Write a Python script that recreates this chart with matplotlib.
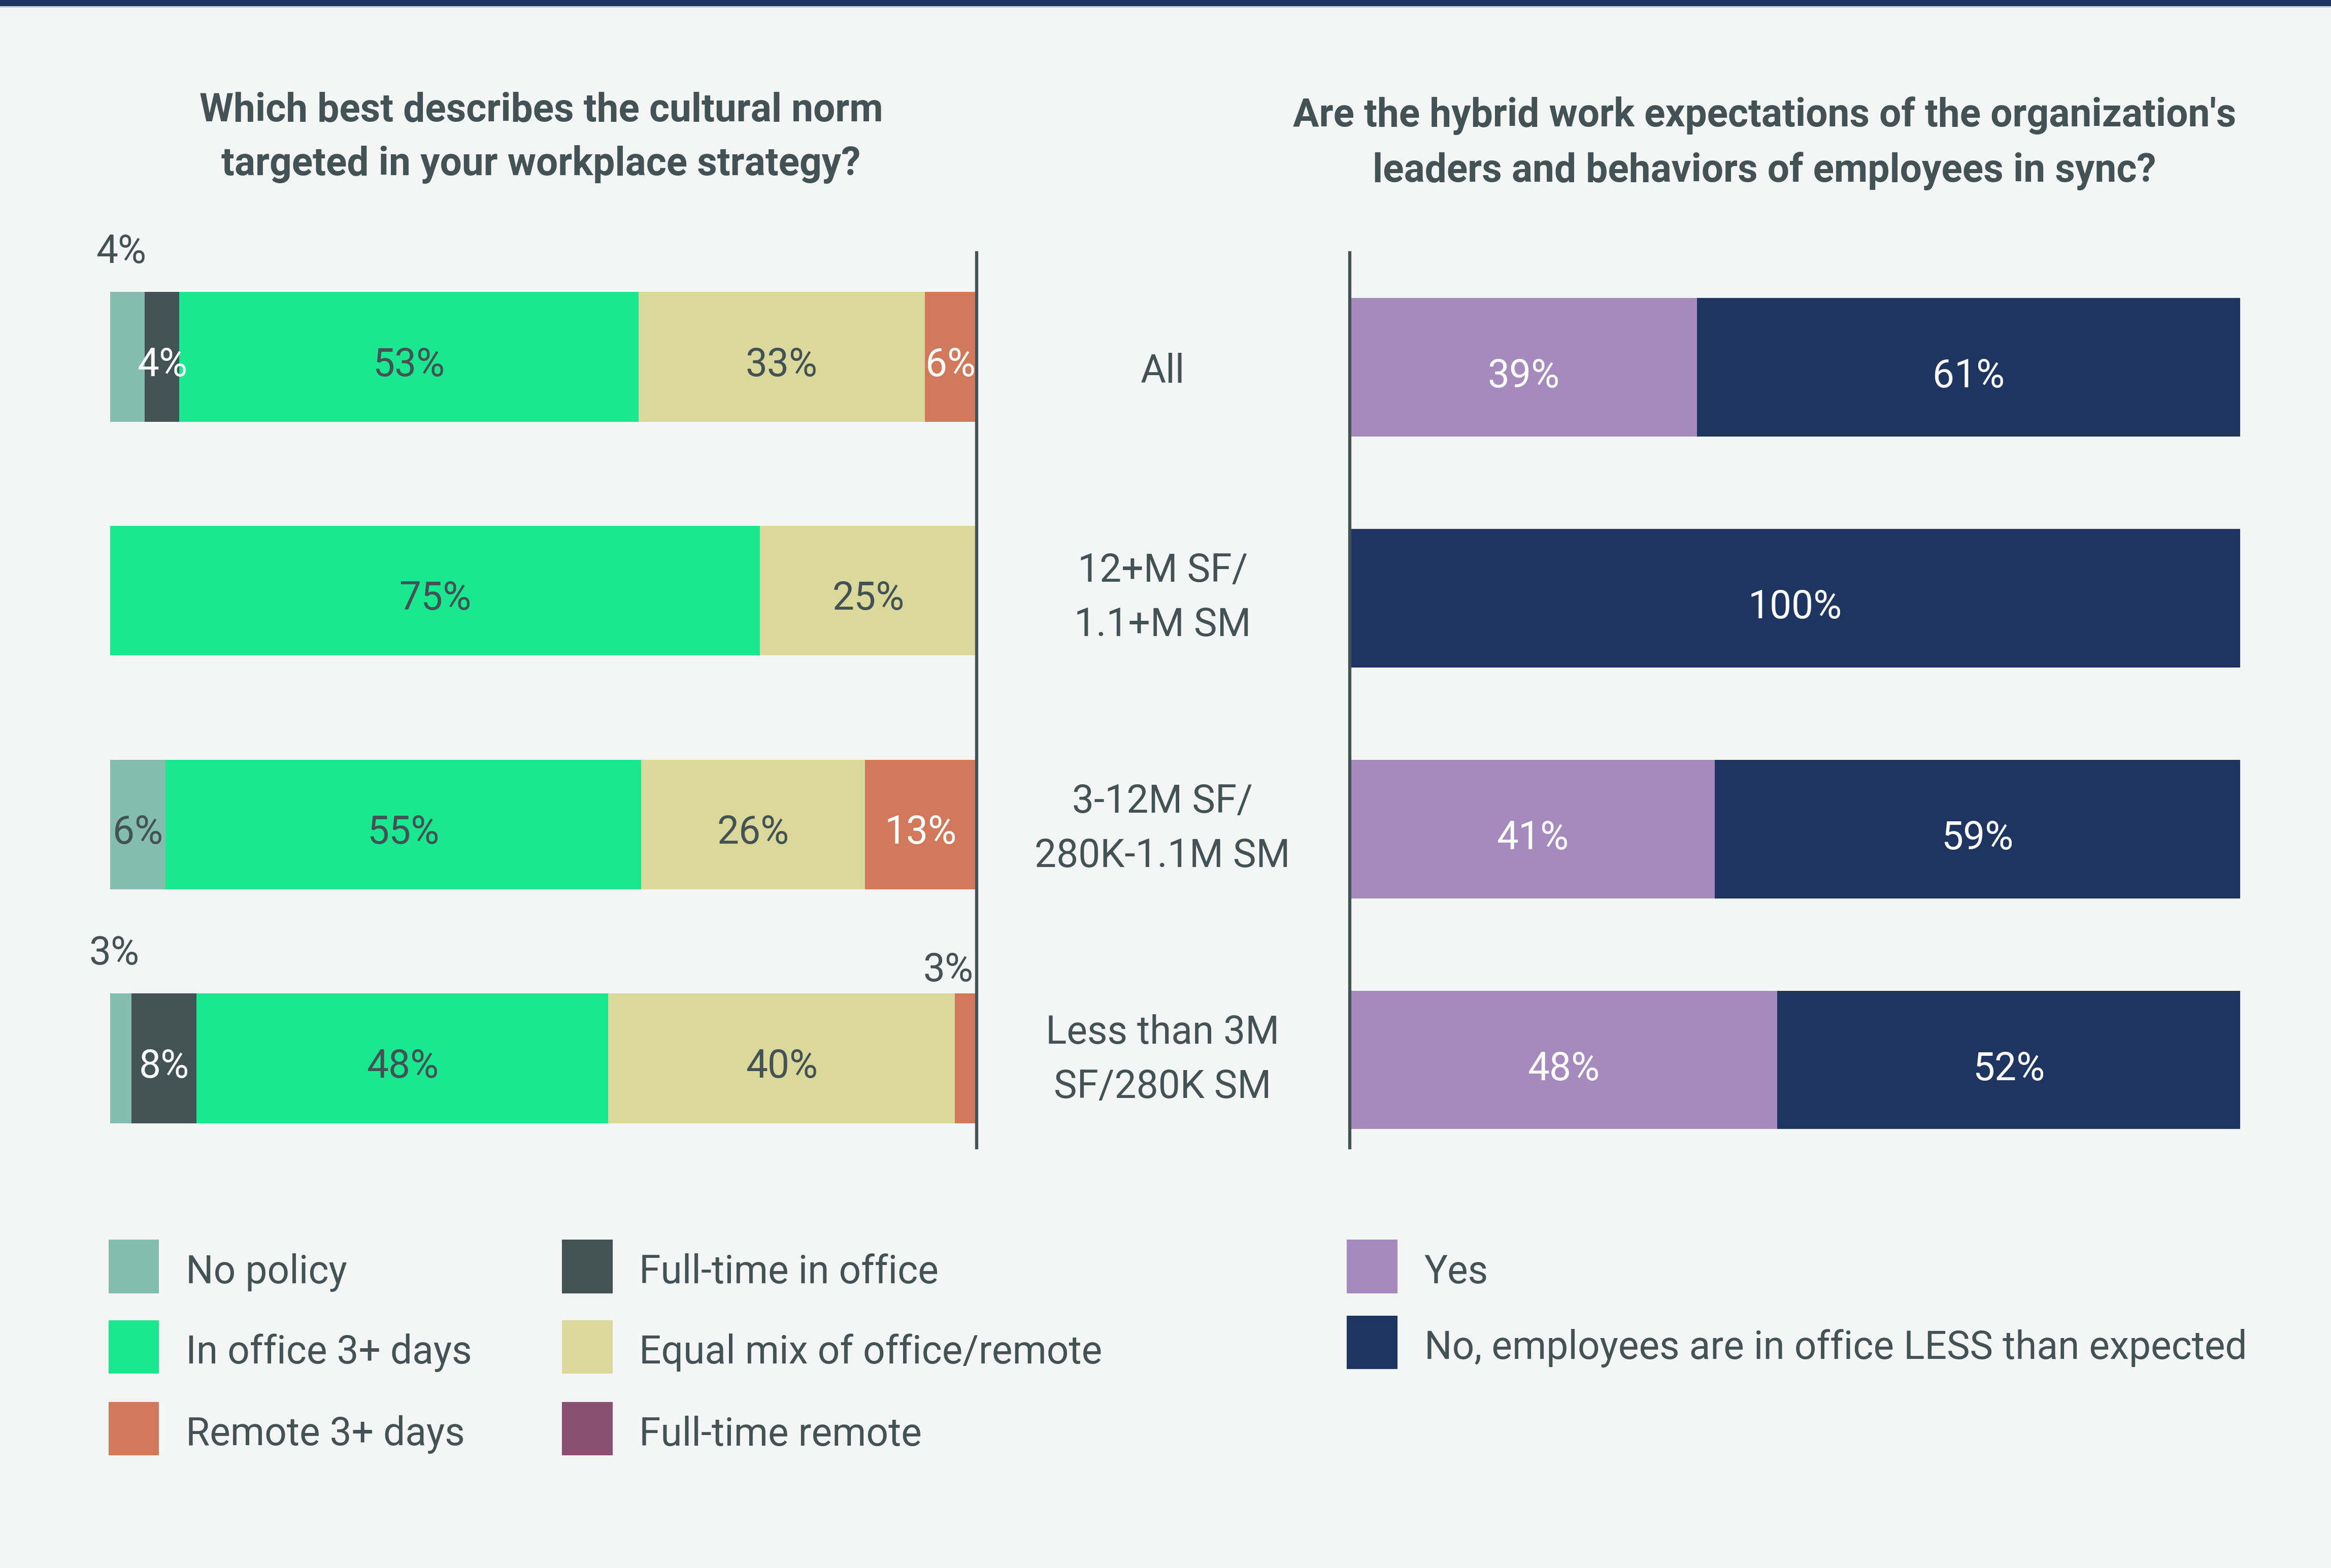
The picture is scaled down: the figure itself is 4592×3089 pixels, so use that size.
import matplotlib.pyplot as plt
from matplotlib.patches import Rectangle
from matplotlib.transforms import blended_transform_factory

plt.rcParams["font.family"] = ["Roboto", "DejaVu Sans"]

# --- data -------------------------------------------------------------------
groups = ["All", "12+M SF/\n1.1+M SM", "3-12M SF/\n280K-1.1M SM", "Less than 3M\nSF/280K SM"]

norm_title = "Which best describes the cultural norm\ntargeted in your workplace strategy?"
norm_cats = ["No policy", "Full-time in office", "In office 3+ days",
             "Equal mix of office/remote", "Remote 3+ days", "Full-time remote"]
no_policy = [4, 0, 6.4, 2.5]
full_time_office = [4, 0, 0, 7.5]
in_office_3 = [53, 75, 54.9, 47.5]
equal_mix = [33, 25, 25.8, 40]
remote_3 = [6, 0, 12.9, 2.5]
full_time_remote = [0, 0, 0, 0]
norm_values = [no_policy, full_time_office, in_office_3, equal_mix, remote_3, full_time_remote]

sync_title = "Are the hybrid work expectations of the organization's\nleaders and behaviors of employees in sync?"
sync_cats = ["Yes", "No, employees are in office LESS than expected"]
sync_yes = [39, 0, 41, 48]
sync_no = [61, 100, 59, 52]
sync_values = [sync_yes, sync_no]

# --- style ------------------------------------------------------------------
BG = "#f4f6f5"
TEXT = "#435254"
NAVY = "#1f3561"
norm_colors = ["#84bcae", "#435254", "#19e890", "#dad89b", "#d1795a", "#8a5072"]
norm_label_colors = [TEXT, "white", TEXT, TEXT, "white", "white"]
sync_colors = ["#a58abe", NAVY]
FS = 18.4

# labels drawn above the bar: (row, category index) -> side
outside = {(0, 0): "left", (3, 0): "left", (3, 4): "right"}

# layout in reference units (1568 x 1054.8)
W, H = 1568.0, 1054.8


def fx(x):
    return x / W


def fy(y):
    return 1 - y / H


def pct(v):
    return f"{int(v + 0.5)}%"


fig = plt.figure(figsize=(4592 / 300, 3089 / 300), dpi=300, facecolor=BG)

# top band
fig.patches.append(Rectangle((0, fy(4.2)), 1, 1 - fy(4.2), transform=fig.transFigure,
                             facecolor=NAVY, edgecolor="none"))
fig.patches.append(Rectangle((0, fy(5.2)), 1, fy(4.2) - fy(5.2), transform=fig.transFigure,
                             facecolor="#c5ccd6", edgecolor="none"))

# --- left chart -------------------------------------------------------------
ax1 = fig.add_axes([fx(74), fy(772), fx(657) - fx(74), (772 - 170) / H])
ax1.set_facecolor("none")
ax1.set_xlim(0, 100)
ax1.set_ylim(3 + (772 - 712) / 157.3, -(240 - 170) / 157.3)
rows = range(len(groups))
totals = [sum(v[i] for v in norm_values) for i in rows]
lefts = [0.0] * len(groups)
for ci, (vals, col) in enumerate(zip(norm_values, norm_colors)):
    widths = [vals[i] / totals[i] * 100 for i in rows]
    ax1.barh(list(rows), widths, left=lefts, height=0.554, color=col, linewidth=0)
    for i in rows:
        if vals[i] <= 0:
            continue
        mid = lefts[i] + widths[i] / 2
        side = outside.get((i, ci))
        if side == "left":
            ax1.annotate(pct(vals[i]), (mid, i - 0.277), xytext=(-3, 10),
                         textcoords="offset points", ha="center", va="bottom",
                         fontsize=FS, color=TEXT)
        elif side == "right":
            ax1.annotate(pct(vals[i]), (lefts[i] + widths[i], i - 0.277), xytext=(-1.5, 2),
                         textcoords="offset points", ha="right", va="bottom",
                         fontsize=FS, color=TEXT)
        else:
            ax1.text(mid, i + 0.035, pct(vals[i]), ha="center", va="center",
                     fontsize=FS, color=norm_label_colors[ci])
    lefts = [lefts[i] + widths[i] for i in rows]

for s in ["top", "left", "bottom"]:
    ax1.spines[s].set_visible(False)
ax1.spines["right"].set_color(TEXT)
ax1.spines["right"].set_linewidth(1.5)
ax1.set_xticks([])
ax1.set_yticks([])

# --- right chart ------------------------------------------------------------
ax2 = fig.add_axes([fx(908), fy(772), fx(1507) - fx(908), (772 - 170) / H])
ax2.set_facecolor("none")
ax2.set_xlim(0, 100)
ax2.set_ylim(3 + (772 - 713) / 155.3, -(247 - 170) / 155.3)
lefts = [0.0] * len(groups)
for vals, col in zip(sync_values, sync_colors):
    ax2.barh(list(rows), vals, left=lefts, height=0.6, color=col, linewidth=0)
    for i in rows:
        if vals[i] > 0:
            ax2.text(lefts[i] + vals[i] / 2, i + 0.04, pct(vals[i]), ha="center",
                     va="center", fontsize=FS, color="white")
    lefts = [lefts[i] + vals[i] for i in rows]

for s in ["top", "right", "bottom"]:
    ax2.spines[s].set_visible(False)
ax2.spines["left"].set_color(TEXT)
ax2.spines["left"].set_linewidth(1.5)
ax2.set_xticks([])
ax2.set_yticks([])

# group labels between the charts
tr = blended_transform_factory(fig.transFigure, ax2.transData)
for i, g in enumerate(groups):
    dy = 0.0 if "\n" in g else 0.02
    ax2.text(fx(782), i + dy, g, transform=tr, ha="center", va="center",
             fontsize=FS, color=TEXT, linespacing=1.55)

# titles
fig.text(fx(364), fy(92.5), norm_title, ha="center", va="center", fontsize=FS,
         color=TEXT, weight="semibold", linespacing=1.55)
fig.text(fx(1187), fy(96.5), sync_title, ha="center", va="center", fontsize=FS,
         color=TEXT, weight="semibold", linespacing=1.55)


# --- legends ----------------------------------------------------------------
def legend_item(x, y, label, color):
    fig.patches.append(Rectangle((fx(x), fy(y + 18)), fx(34), 36 / H,
                                 transform=fig.transFigure, facecolor=color,
                                 edgecolor="none"))
    fig.text(fx(x + 52), fy(y + 4), label, ha="left", va="center", fontsize=FS, color=TEXT)


legend_pos = [(73, 852), (378, 852), (73, 906), (378, 906), (73, 961), (378, 961)]
for (x, y), cat, col in zip(legend_pos, norm_cats, norm_colors):
    legend_item(x, y, cat, col)

for k, (lab, col) in enumerate(zip(sync_cats, sync_colors)):
    legend_item(906, 852 + k * 51, lab, col)

fig.savefig("out.png", dpi=300, facecolor=BG)
